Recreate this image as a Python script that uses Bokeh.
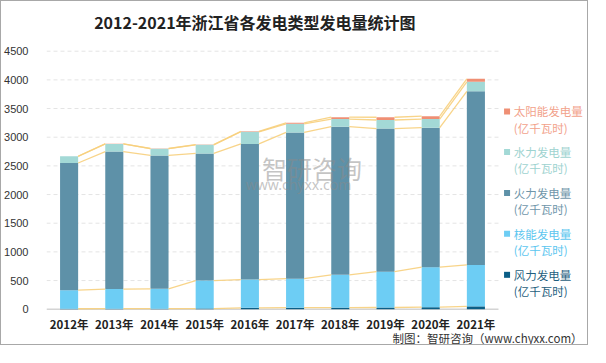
from bokeh.plotting import figure
from bokeh.models import ColumnDataSource, Range1d, FixedTicker, Label
from bokeh.embed import file_html
from bokeh.resources import INLINE

# ---------------- data (亿千瓦时) ----------------
years = ["2012年", "2013年", "2014年", "2015年", "2016年",
         "2017年", "2018年", "2019年", "2020年", "2021年"]
wind = [8, 9, 10, 12, 25, 27, 28, 30, 35, 50]
nuclear = [325, 343, 345, 488, 492, 506, 572, 625, 698, 722]
thermal = [2217, 2398, 2328, 2217, 2366, 2550, 2583, 2495, 2434, 3028]
hydro = [117, 133, 117, 150, 212, 150, 134, 150, 150, 167]
solar = [1, 2, 3, 5, 8, 18, 33, 48, 50, 52]

series_keys = ["wind", "nuclear", "thermal", "hydro", "solar"]
series_names = ["风力发电量", "核能发电量", "火力发电量", "水力发电量", "太阳能发电量"]
unit_text = "(亿千瓦时)"
y_ticks = [0, 500, 1000, 1500, 2000, 2500, 3000, 3500, 4000, 4500]
title_text = "2012-2021年浙江省各发电类型发电量统计图"
source_text = "制图：智研咨询（www.chyxx.com）"
watermark_cn = "智研咨询"
watermark_url = "www.chyxx.com"

# ---------------- styles / layout ----------------
bar_colors = ["#0b5e86", "#6dcdf4", "#5e91a8", "#a3d9d6", "#ef8f74"]
legend_text_colors = ["#1f5f80", "#5cc6ef", "#6f96aa", "#9ed3d0", "#f2a28b"]
connector_color = "#f7cf7c"
CJK = "Noto Sans CJK SC"

W, H = 588, 345
SX, SY = W / 604, H / 361          # reference-image px -> canvas px


def cx(rx):
    return (rx - 1) * SX


def cy(ry):
    return (ry - 1) * SY


FL = 43                               # plot-area left (canvas px)
PX_CAT = (cx(511) - cx(45)) / 10      # px per category
Y0_PX, YTOP_PX = cy(323), cy(53)      # canvas y of value 0 / value YMAX
YMAX = 4500
N = len(years)


def px_x(c):
    return (c - FL) / PX_CAT - 0.5


def px_y(c):
    return (Y0_PX - c) * YMAX / (Y0_PX - YTOP_PX)


p = figure(width=W, height=H, title=None,
           x_range=Range1d(px_x(FL), px_x(W)),
           y_range=Range1d(px_y(H), px_y(0)),
           x_axis_location=None,
           output_backend="svg", toolbar_location=None,
           min_border_left=FL, min_border_right=0,
           min_border_top=0, min_border_bottom=0)
p.styles = {"border": "1px solid #a8a8a8"}
p.outline_line_color = None
p.background_fill_color = "white"
p.border_fill_color = "white"
p.xgrid.grid_line_color = None
p.ygrid.grid_line_color = None

idx = list(range(N))
data = {"idx": idx, "wind": wind, "nuclear": nuclear, "thermal": thermal,
        "hydro": hydro, "solar": solar}
src = ColumnDataSource(data)

# dashed grid lines (limited to the plotting band) and baseline
ng = len(y_ticks) - 1
p.segment(x0=[-0.5] * ng, x1=[N - 0.5] * ng, y0=y_ticks[1:], y1=y_ticks[1:],
          line_color="#e4e4e4", line_dash="4 3", line_width=1)
p.segment(x0=[-0.5], x1=[N - 0.5], y0=[y_ticks[0]], y1=[y_ticks[0]],
          line_color="#d4d4d4", line_width=1.5)

renderers = p.vbar_stack(series_keys, x="idx", width=0.4, color=bar_colors,
                         line_color=None, source=src)

# connector lines between stacked levels
x0, x1, y0, y1 = [], [], [], []
cum = [0] * N
for key in series_keys:
    vals = data[key]
    cum = [c + v for c, v in zip(cum, vals)]
    for i in range(N - 1):
        x0.append(i + 0.2)
        x1.append(i + 1 - 0.2)
        y0.append(cum[i])
        y1.append(cum[i + 1])
p.segment(x0=x0, y0=y0, x1=x1, y1=y1, line_color=connector_color,
          line_width=1.3, line_alpha=0.9)

# y axis
p.yaxis.ticker = FixedTicker(ticks=y_ticks)
p.yaxis.axis_line_color = None
p.yaxis.major_tick_line_color = None
p.yaxis.minor_tick_line_color = None
p.yaxis.major_label_text_font = "Liberation Sans"
p.yaxis.major_label_text_font_size = "11px"
p.yaxis.major_label_text_color = "#333333"
p.yaxis.major_label_standoff = 12

# x category labels
p.text(x=idx, y=[0] * N, text=years, y_offset=15,
       text_align="center", text_baseline="middle", text_font={"value": CJK},
       text_font_style="bold", text_font_size="11.5px", text_color="#222222")

# title
p.add_layout(Label(x=px_x(cx(260)), y=px_y(cy(22)), text=title_text,
                   text_align="center", text_baseline="middle", text_font=CJK,
                   text_font_size="16px", text_font_style="bold",
                   text_color="#222222"))

# watermark
p.add_layout(Label(x=px_x(cx(319)), y=px_y(cy(175)), text=watermark_cn,
                   text_align="center", text_baseline="middle", text_font=CJK,
                   text_font_size="25px", text_color="#8a8a8a", text_alpha=0.5))
p.add_layout(Label(x=px_x(cx(305)), y=px_y(cy(193)), text=watermark_url,
                   text_align="center", text_baseline="middle", text_font="Noto Sans",
                   text_font_size="14px", text_color="#8a8a8a", text_alpha=0.5))

# footer
p.add_layout(Label(x=px_x(cx(402)), y=px_y(336), text=source_text,
                   text_align="left", text_baseline="middle", text_font=CJK,
                   text_font_size="11.5px", text_color="#333333"))

# legend: top to bottom solar, hydro, thermal, nuclear, wind
ref_centres = [287, 244, 201.5, 158.5, 116]   # first-line centres, per series
leg_sq_x = [px_x(cx(520))] * len(series_keys)
leg_sq_y = [px_y(cy(c)) for c in ref_centres]
p.scatter(x=leg_sq_x, y=leg_sq_y, marker="square", size=6, color=bar_colors,
          line_color=None)
leg_tx = [px_x(cx(527))] * len(series_keys)
p.text(x=leg_tx, y=leg_sq_y, text=series_names, text_align="left",
       text_baseline="middle", text_font={"value": CJK},
       text_font_size="11.5px", text_color=legend_text_colors)
p.text(x=leg_tx, y=[px_y(cy(c + 17)) for c in ref_centres],
       text=[unit_text] * len(series_keys), text_align="left",
       text_baseline="middle", text_font={"value": CJK},
       text_font_size="11.5px", text_color=legend_text_colors)

open("out.html", "w").write(file_html(p, INLINE))
